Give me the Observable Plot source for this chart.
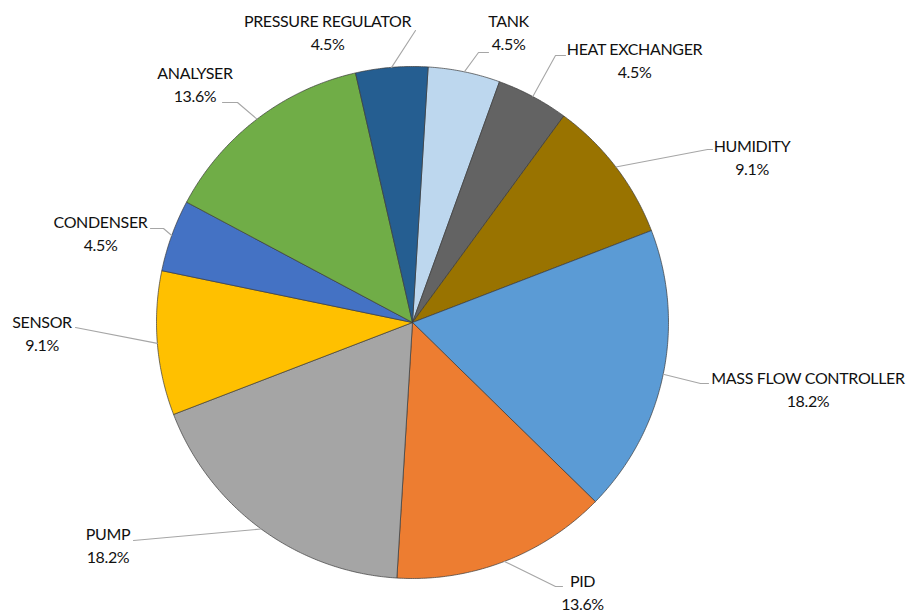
<!DOCTYPE html>
<html>
<head>
<meta charset="utf-8">
<script src="https://cdn.jsdelivr.net/npm/d3@7"></script>
<script src="https://cdn.jsdelivr.net/npm/@observablehq/plot@0.6"></script>
<style>
  html, body { margin: 0; padding: 0; background: #fff; }
  #chart svg { display: block; }
  #chart svg text { letter-spacing: -0.35px; }
</style>
</head>
<body>
<div id="chart"></div>
<script>
// ---- data ----
const categories = ["TANK", "HEAT EXCHANGER", "HUMIDITY", "MASS FLOW CONTROLLER", "PID", "PUMP", "SENSOR", "CONDENSER", "ANALYSER", "PRESSURE REGULATOR"];
const counts = [1, 1, 2, 4, 3, 4, 2, 1, 3, 1];
const colors = ["#BDD7EE", "#636363", "#997300", "#5B9BD5", "#ED7D31", "#A5A5A5", "#FFC000", "#4472C4", "#70AD47", "#255E91"];

// ---- layout (pixels in the 906x613 frame) ----
const W = 906, H = 613, CX = 412, CY = 322, R = 256;
const startDeg = 3.5;
// label block centres and leader elbow/end points
const labelLayout = [
  {cx: 508, cy: 32.5, path: [[478, 52], [488, 52]]},
  {cx: 634, cy: 60.5, path: [[555, 55], [565, 55]]},
  {cx: 751.5, cy: 157.5, path: [[707, 149], [712, 149]]},
  {cx: 807.5, cy: 389.5, path: [[700, 383], [708, 383]]},
  {cx: 582, cy: 592.5, path: [[555, 586], [562, 586]]},
  {cx: 107.5, cy: 546, path: [[133, 540]]},
  {cx: 41.5, cy: 333.5, path: [[75, 327]]},
  {cx: 100, cy: 234, path: [[163, 228], [150, 228]]},
  {cx: 194.5, cy: 85, path: [[237, 102], [222, 102]]},
  {cx: 327, cy: 32.5, path: [[415, 30]]}
];

const toX = px => (px - CX) / R;
const toY = py => (CY - py) / R;

const total = d3.sum(counts);
const start = startDeg * Math.PI / 180;
const arcs = d3.pie().sort(null).startAngle(start).endAngle(start + 2 * Math.PI)(counts);

// slice polygons in unit-circle coordinates
const slicePts = [];
arcs.forEach((a, i) => {
  const cat = categories[i];
  slicePts.push({cat, x: 0, y: 0});
  const n = Math.max(4, Math.ceil((a.endAngle - a.startAngle) / (Math.PI / 360)));
  for (let k = 0; k <= n; k++) {
    const t = a.startAngle + (a.endAngle - a.startAngle) * k / n;
    slicePts.push({cat, x: Math.sin(t), y: Math.cos(t)});
  }
  slicePts.push({cat, x: 0, y: 0});
});

// leader lines
const leaderPts = [];
arcs.forEach((a, i) => {
  const m = (a.startAngle + a.endAngle) / 2;
  leaderPts.push({cat: categories[i], x: Math.sin(m), y: Math.cos(m)});
  labelLayout[i].path.forEach(([px, py]) => leaderPts.push({cat: categories[i], x: toX(px), y: toY(py)}));
});

// labels
const labels = categories.map((c, i) => ({
  text: c + "\n" + (counts[i] / total * 100).toFixed(1) + "%",
  x: toX(labelLayout[i].cx),
  y: toY(labelLayout[i].cy)
}));

const chart = Plot.plot({
  width: W,
  height: H,
  margin: 0,
  x: {domain: [toX(0), toX(W)], axis: null},
  y: {domain: [toY(H), toY(0)], axis: null},
  color: {domain: categories, range: colors},
  style: {background: "#fff"},
  marks: [
    Plot.line(slicePts, {x: "x", y: "y", z: "cat", fill: "cat", stroke: "#3b3b3b", strokeWidth: 0.7, curve: "linear"}),
    Plot.line(leaderPts, {x: "x", y: "y", z: "cat", stroke: "#a6a6a6", strokeWidth: 1.1}),
    Plot.text(labels, {x: "x", y: "y", dy: -2, text: "text", textAnchor: "middle", lineAnchor: "middle", lineHeight: 1.44, fontSize: 16, fontFamily: "Lato", fill: "#111"})
  ]
});
document.getElementById("chart").appendChild(chart);
</script>
</body>
</html>
